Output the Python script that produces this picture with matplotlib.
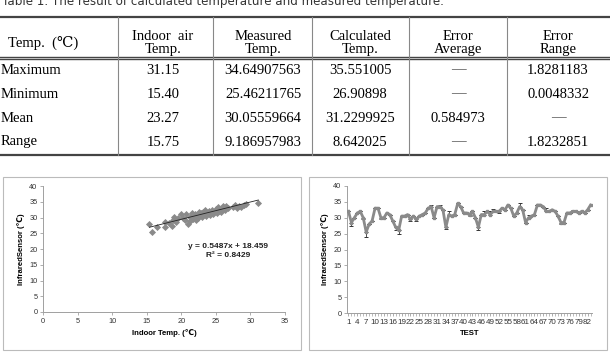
import matplotlib.pyplot as plt
from matplotlib.patches import Rectangle

# ---- table data ----
col_heads = ['Temp.  (\u2103)', 'Indoor  air\nTemp.', 'Measured\nTemp.', 'Calculated\nTemp.',
             'Error\nAverage', 'Error\nRange']
row_names = ['Maximum', 'Minimum', 'Mean', 'Range']
indoor = ['31.15', '15.40', '23.27', '15.75']
measured = ['34.64907563', '25.46211765', '30.05559664', '9.186957983']
calculated = ['35.551005', '26.90898', '31.2299925', '8.642025']
err_avg = ['\u2014', '\u2014', '0.584973', '\u2014']
err_range = ['1.8281183', '0.0048332', '\u2014', '1.8232851']

# ---- scatter data (indoor temp vs infrared sensor) ----
sc_x = [15.4, 15.8, 16.5, 17.6, 17.6, 18.2, 18.7, 18.8, 19.0, 19.3, 19.5, 19.9, 20.3, 20.5,
        20.7, 21.0, 21.2, 21.3, 21.5, 21.7, 21.9, 22.0, 22.2, 22.4, 22.5, 22.7, 22.9, 23.0,
        23.2, 23.4, 23.5, 23.6, 23.8, 24.0, 24.1, 24.3, 24.5, 24.6, 24.8, 25.0, 25.1, 25.3,
        25.5, 25.7, 25.9, 26.1, 26.3, 26.5, 26.8, 27.5, 27.8, 28.0, 28.4, 28.7, 29.0, 29.3,
        31.15]
sc_y = [28.0, 25.4, 27.0, 28.6, 27.0, 28.2, 27.2, 29.2, 30.3, 28.5, 29.8, 31.0, 30.0, 29.3,
        31.0, 27.8, 28.8, 30.3, 31.4, 29.5, 30.6, 31.0, 29.2, 30.0, 31.8, 30.8, 31.3, 30.2,
        31.9, 31.0, 32.3, 30.6, 31.5, 32.0, 30.9, 31.6, 32.4, 31.0, 31.9, 32.7, 31.5, 33.2,
        32.2, 31.8, 32.8, 33.5, 32.5, 33.6, 33.0, 33.2, 34.0, 33.0, 33.8, 33.2, 34.0, 34.3,
        34.6]
slope, intercept = 0.5487, 18.459

# ---- test series ----
test_vals = [32.0, 28.5, 30.0, 31.5, 32.0, 30.0, 25.5, 28.0, 29.0, 33.0,
             33.0, 30.0, 30.0, 31.5, 31.0, 29.0, 27.0, 26.0, 30.5, 30.5,
             31.0, 29.5, 30.5, 29.5, 30.5, 31.0, 31.5, 33.0, 33.5, 30.0,
             33.5, 33.5, 32.5, 27.0, 31.0, 30.5, 31.0, 34.5, 33.5, 31.5,
             31.5, 31.0, 32.0, 30.0, 27.0, 31.0, 31.0, 32.0, 31.0, 32.0,
             32.0, 32.0, 33.0, 32.5, 34.0, 33.0, 30.5, 31.5, 33.5, 32.5,
             28.5, 30.0, 30.5, 31.0, 34.0, 34.0, 33.5, 32.0, 32.0, 32.5,
             32.0, 30.5, 28.5, 28.5, 31.5, 31.5, 32.0, 32.0, 31.5, 32.0,
             31.5, 32.5, 34.0]
err_lo = [0, 1.0, 0, 0, 0, 0.5, 1.5, 0, 0, 0, 0, 0.3, 0, 0, 0, 0, 1.0, 1.0, 0, 0,
          0, 0.6, 0, 0.6, 0, 0, 0, 0, 0, 0, 0, 0, 0, 0.6, 0, 0, 0, 0, 0, 0,
          0, 0.5, 0, 0, 1.0, 0, 0, 0, 0, 0, 0, 0.6, 0, 0, 0, 0, 0, 0, 0, 0,
          0, 0, 0, 0, 0, 0, 0, 0, 0, 0, 0, 0, 0.4, 0, 0, 0, 0, 0, 0, 0,
          0, 0, 0]
err_hi = [0, 0, 0, 0, 0, 0, 0, 0, 0, 0, 0, 0, 0, 0, 0, 0, 0, 0, 0, 0,
          0, 0, 0, 0, 0, 0, 0, 0, 0.5, 0, 0, 0.5, 0, 0, 1.0, 0, 0, 0, 0, 0,
          0, 0, 0, 0, 0, 0, 1.0, 0, 1.0, 0.6, 0, 0, 0, 0, 0, 0, 0, 0, 1.0, 0,
          0, 1.0, 0, 0, 0, 0, 0, 1.2, 0, 0, 0, 0, 0, 0, 0, 0, 0.3, 0, 0, 0,
          0, 0, 0]

W, H = 610, 356
fig = plt.figure(figsize=(W / 100, H / 100), dpi=100)

# overlay in pixel coordinates for the table and panel frames
ov = fig.add_axes([0, 0, 1, 1])
ov.set_xlim(0, W)
ov.set_ylim(H, 0)
ov.axis('off')

serif = ['Liberation Serif', 'DejaVu Serif']
tfs = 10.5
# caption is clipped by the top edge in the source image
ov.text(2, 2, 'Table 1. The result of calculated temperature and measured temperature.',
        fontsize=8.6, family=['DejaVu Sans'], va='center', color='#333333')

# rules
ov.plot([0, W], [17, 17], color='#444444', lw=1.6)
ov.plot([0, W], [56.5, 56.5], color='#444444', lw=1.0)
ov.plot([0, W], [59, 59], color='#444444', lw=1.0)
ov.plot([0, W], [155, 155], color='#444444', lw=1.6)
vlines = [118, 213, 312, 409, 507]
for vx in vlines:
    ov.plot([vx, vx], [17, 155], color='#888888', lw=0.8)

col_centers = [None, 163, 263, 360, 458, 558]
ov.text(8, 43, col_heads[0], fontsize=tfs, family=serif, va='center', ha='left')
for j in range(1, 6):
    ov.text(col_centers[j], 43, col_heads[j], fontsize=tfs, family=serif,
            va='center', ha='center', linespacing=1.0)

row_y = [70, 94, 118, 142]
cols = [indoor, measured, calculated, err_avg, err_range]
for i, name in enumerate(row_names):
    ov.text(1, row_y[i], name, fontsize=tfs, family=serif, va='center', ha='left')
    for j, col in enumerate(cols):
        ov.text(col_centers[j + 1], row_y[i], col[i], fontsize=tfs, family=serif,
                va='center', ha='center', color='#555555' if col[i] == '\u2014' else 'black')

# panel frames
ov.add_patch(Rectangle((3, 177), 298, 173, fill=False, ec='#bbbbbb', lw=0.8))
ov.add_patch(Rectangle((309, 177), 298, 173, fill=False, ec='#bbbbbb', lw=0.8))

sans = ['Liberation Sans', 'DejaVu Sans']
tick_fs = 5.3
lab_fs = 5.6


def style_axes(ax):
    for s in ['top', 'right']:
        ax.spines[s].set_visible(False)
    for s in ['left', 'bottom']:
        ax.spines[s].set_color('#a0a0a0')
        ax.spines[s].set_linewidth(0.7)
    ax.tick_params(colors='#a0a0a0', labelcolor='#333333', labelsize=tick_fs,
                   length=2, width=0.6, pad=2)
    for lbl in ax.get_xticklabels() + ax.get_yticklabels():
        lbl.set_family(sans)


# ---- left scatter ----
ax1 = fig.add_axes([43 / W, (H - 312) / H, 242 / W, 126 / H])
ax1.scatter(sc_x, sc_y, marker='D', s=13, color='#8a8a8a', zorder=3, linewidths=0)
fx = [min(sc_x), max(sc_x)]
ax1.plot(fx, [slope * v + intercept for v in fx], color='#222222', lw=0.6, zorder=4)
ax1.set_xlim(0, 35)
ax1.set_ylim(0, 40)
ax1.set_xticks(range(0, 36, 5))
ax1.set_yticks(range(0, 41, 5))
style_axes(ax1)
ax1.set_xlabel('Indoor Temp. (\u2103)', fontsize=lab_fs, fontweight='bold', family=sans,
               labelpad=3)
ax1.set_ylabel('InfraredSensor (\u2103)', fontsize=lab_fs, fontweight='bold', family=sans,
               labelpad=3)
ax1.text(26.8, 19.3, 'y = 0.5487x + 18.459\nR\u00b2 = 0.8429', fontsize=6.0,
         fontweight='bold', family=sans, ha='center', va='center', color='#222222',
         linespacing=1.3)

# ---- right line chart ----
ax2 = fig.add_axes([347 / W, (H - 313) / H, 245 / W, 127 / H])
n = len(test_vals)
xs = list(range(1, n + 1))
ax2.errorbar(xs, test_vals, yerr=[err_lo, err_hi], fmt='none', ecolor='#333333',
             elinewidth=0.6, capsize=1.6, capthick=0.7, zorder=2)
ax2.plot(xs, test_vals, color='#8a8a8a', lw=2.0, marker='s', ms=1.6, zorder=3)
ax2.set_xlim(0.5, n + 0.5)
ax2.set_ylim(0, 40)
ax2.set_yticks(range(0, 41, 5))
ax2.set_xticks(xs[::3])
ax2.set_xticks(xs, minor=True)
ax2.tick_params(axis='x', which='minor', length=2, width=0.5, color='#a0a0a0')
style_axes(ax2)
ax2.set_xticklabels([str(v) for v in xs[::3]], fontsize=5.8, family=sans)
ax2.set_xlabel('TEST', fontsize=lab_fs, fontweight='bold', family=sans, labelpad=3)
ax2.set_ylabel('InfraredSensor (\u2103)', fontsize=lab_fs, fontweight='bold', family=sans,
               labelpad=3)

fig.savefig('out.png', dpi=100)
